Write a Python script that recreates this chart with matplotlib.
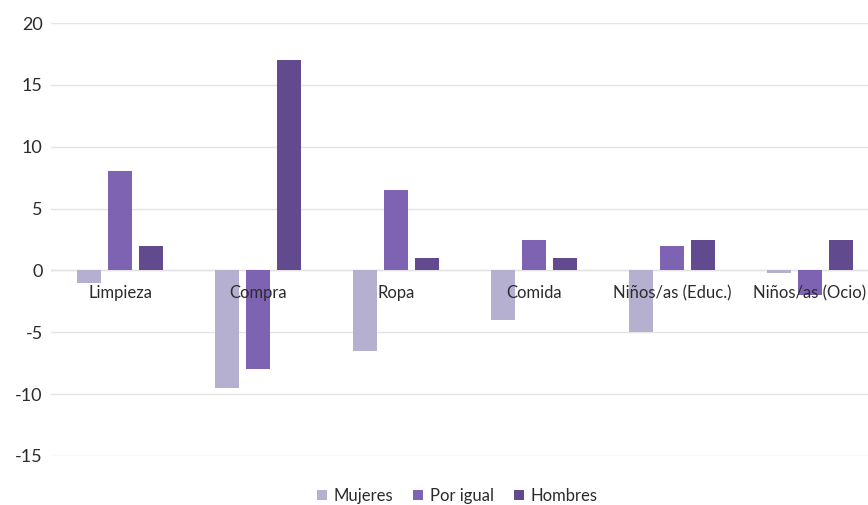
import matplotlib
matplotlib.use("Agg")
import matplotlib.pyplot as plt
import numpy as np

categories = ["Limpieza", "Compra", "Ropa", "Comida", "Niños/as (Educ.)", "Niños/as (Ocio)"]
mujeres = [-1, -9.5, -6.5, -4, -5, -0.2]
por_igual = [8, -8, 6.5, 2.5, 2, -2]
hombres = [2, 17, 1, 1, 2.5, 2.5]
series_names = ["Mujeres", "Por igual", "Hombres"]
colors = ["#b5b0cf", "#7e63b3", "#614a8e"]
yticks = [-15, -10, -5, 0, 5, 10, 15, 20]

plt.rcParams["font.family"] = ["Lato", "DejaVu Sans"]
txt_color = "#2b2b2b"

fig = plt.figure(figsize=(8.68, 5.05), dpi=100)
W, H = 868, 505
left, right = 51, 879
top, bottom = 23, 456
ax = fig.add_axes([left / W, 1 - bottom / H, (right - left) / W, (bottom - top) / H])

x = np.arange(len(categories))
bw = 0.17
gap = 0.225
for i, (vals, name, c) in enumerate(zip([mujeres, por_igual, hombres], series_names, colors)):
    ax.bar(x + (i - 1) * gap, vals, width=bw, color=c, label=name, zorder=2)

ax.set_xlim(-0.5, len(categories) - 0.5)
ax.set_ylim(-15, 20)
ax.set_yticks(yticks)
ax.set_yticklabels([str(t) for t in yticks], fontsize=13, color=txt_color)
ax.tick_params(axis="y", length=0, pad=6)
ax.set_xticks([])
ax.grid(axis="y", color="#e4e4e4", linewidth=1, zorder=0)
for s in ax.spines.values():
    s.set_visible(False)
ax.axhline(0, color="#dcdcdc", linewidth=1, zorder=1)

for xi, cat in zip(x, categories):
    ax.text(xi, -1.2, cat, ha="center", va="top", fontsize=12, color=txt_color, zorder=3)

handles, labels = ax.get_legend_handles_labels()
fig.legend(handles, labels, loc="center", bbox_to_anchor=(457 / W, 1 - 496 / H), ncol=3,
           frameon=False, fontsize=12, handlelength=0.6, handleheight=0.6,
           handletextpad=0.4, columnspacing=1.2, labelcolor=txt_color)

fig.savefig("out.png", dpi=100)
